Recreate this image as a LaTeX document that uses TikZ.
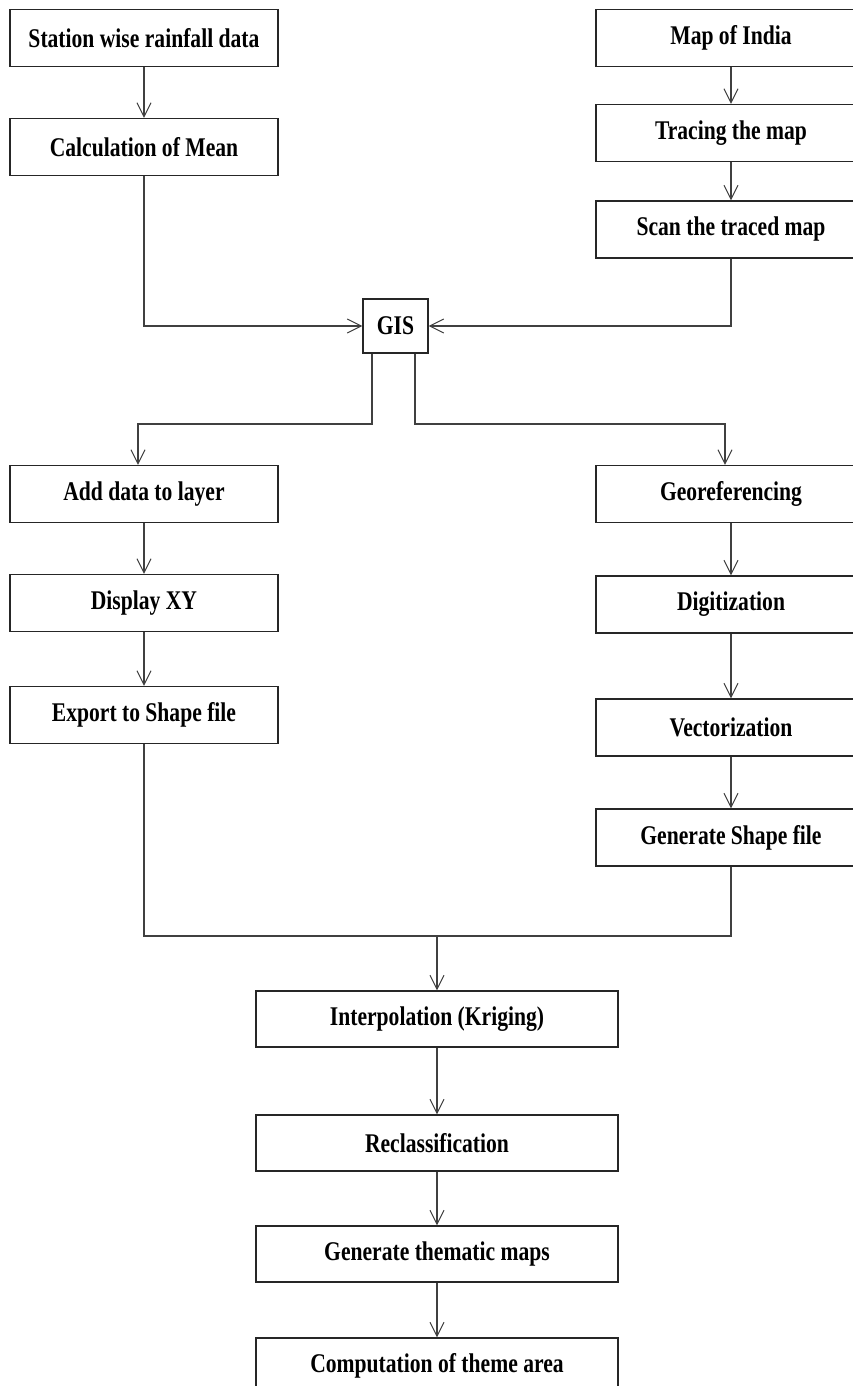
\documentclass[tikz,border=0pt]{standalone}
\usepackage{fontspec}
\newfontfamily\boxfont{Liberation Serif}[FakeStretch=0.8]
\usetikzlibrary{arrows.meta}

\begin{document}
\begin{tikzpicture}[x=1pt, y=-1pt,
    stepbox/.style={draw=black!85, line width=1.4pt, minimum height=57pt, inner sep=0pt,
        font=\boxfont\bfseries\fontsize{27}{30}\selectfont},
    sidebox/.style={stepbox, minimum width=268pt},
    wide/.style={stepbox, minimum width=270pt},
    mid/.style={stepbox, minimum width=362pt, minimum height=56pt},
    arr/.style={draw=black!75, line width=1.1pt, -{Straight Barb[length=14pt, width=14pt, line width=1pt]}},
    ln/.style={draw=black!75, line width=1.1pt}]
    \useasboundingbox (0,0) rectangle (853,1386);

    % left column
    \node[sidebox] (station) at (144,38) {Station wise rainfall data};
    \node[sidebox] (calc) at (144,147) {Calculation of Mean};
    \node[sidebox] (add) at (144,494) {Add data to layer};
    \node[sidebox] (disp) at (144,603) {Display XY};
    \node[sidebox] (export) at (144,715) {Export to Shape file};

    % right column
    \node[wide] (map) at (731,38) {Map of India};
    \node[wide] (trace) at (731,133) {Tracing the map};
    \node[wide] (scan) at (731,229.5) {Scan the traced map};
    \node[wide] (geo) at (731,494) {Georeferencing};
    \node[wide] (digi) at (731,604.5) {Digitization};
    \node[wide] (vect) at (731,727.5) {Vectorization};
    \node[wide] (shp) at (731,837.5) {Generate Shape file};

    \node[stepbox, minimum width=65pt, minimum height=54pt] (gis) at (395.5,326) {GIS};

    % bottom column
    \node[mid] (interp) at (437,1019) {Interpolation (Kriging)};
    \node[mid] (recl) at (437,1143) {Reclassification};
    \node[mid] (them) at (437,1254) {Generate thematic maps};
    \node[mid] (comp) at (437,1366) {Computation of theme area};

    \coordinate (gl) at (372,424);
    \coordinate (gr) at (415,424);
    \coordinate (al) at (138,424);
    \coordinate (ar) at (725,424);
    \coordinate (jn) at (437,936);

    \draw[arr] (station) -- (calc);
    \draw[arr] (map) -- (trace);
    \draw[arr] (trace) -- (scan);
    \draw[arr] (calc) |- (gis);
    \draw[arr] (scan) |- (gis);
    \draw[arr] (gis.south -| gl) -- (gl) -- (al) -- (add.north -| al);
    \draw[arr] (gis.south -| gr) -- (gr) -- (ar) -- (geo.north -| ar);
    \draw[arr] (add) -- (disp);
    \draw[arr] (disp) -- (export);
    \draw[arr] (geo) -- (digi);
    \draw[arr] (digi) -- (vect);
    \draw[arr] (vect) -- (shp);
    \draw[ln] (export) |- (jn);
    \draw[ln] (shp) |- (jn);
    \draw[arr] (jn) -- (interp);
    \draw[arr] (interp) -- (recl);
    \draw[arr] (recl) -- (them);
    \draw[arr] (them) -- (comp);
\end{tikzpicture}
\end{document}
